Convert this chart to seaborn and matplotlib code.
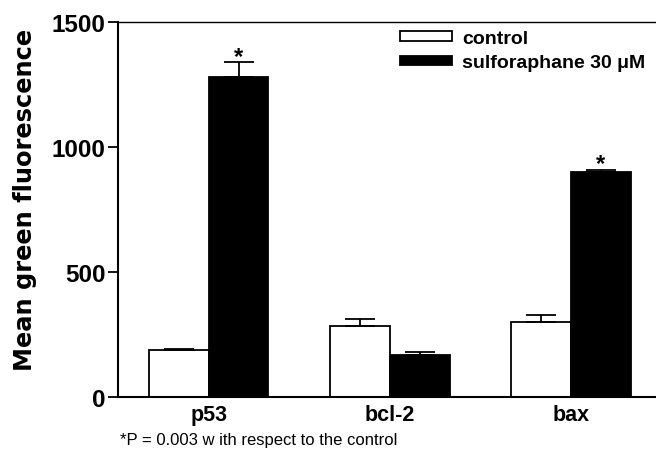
import matplotlib
matplotlib.use('Agg')
import matplotlib.pyplot as plt
import seaborn as sns
import pandas as pd

# values
proteins = ['p53', 'bcl-2', 'bax']
groups = ['control', 'sulforaphane 30 \u03bcM']
control_mean = [187, 284, 299]
control_err = [6, 27, 29]
sulf_mean = [1281, 168, 899]
sulf_err = [58, 12, 10]
significant = [True, False, True]
footnote = '*P = 0.003 w ith respect to the control'

df = pd.DataFrame({
    'protein': proteins * 2,
    'group': [groups[0]] * 3 + [groups[1]] * 3,
    'value': control_mean + sulf_mean,
})

sns.set_style('ticks')
plt.rcParams['font.family'] = ['Liberation Sans', 'DejaVu Sans']
# pure black text, like the scanned figure
plt.rcParams.update({'text.color': 'black', 'axes.labelcolor': 'black',
                     'xtick.color': 'black', 'ytick.color': 'black'})

fig = plt.figure(figsize=(6.56, 4.64), dpi=100)
ax = fig.add_axes([0.18, 0.142, 0.82, 0.808])

sns.barplot(data=df, x='protein', y='value', hue='group', order=proteins,
            hue_order=groups, palette=['white', 'black'], edgecolor='black',
            linewidth=1.3, width=0.66, errorbar=None, ax=ax)

errs = [control_err, sulf_err]
bar_conts = list(ax.containers)
for k, cont in enumerate(bar_conts):
    for i, bar in enumerate(cont.patches):
        xc = bar.get_x() + bar.get_width() / 2
        h = bar.get_height()
        ax.errorbar(xc, h, yerr=[[0], [errs[k][i]]], fmt='none', ecolor='black',
                    elinewidth=1.3, capsize=11, capthick=1.3)
        if k == 1 and significant[i]:
            ax.text(xc, h + errs[k][i] + 24, '*', ha='center', va='center',
                    fontsize=17, fontweight='bold')

ax.set_ylim(0, 1500)
ax.set_xlim(-0.5, 2.47)
ax.set_yticks([0, 500, 1000, 1500])
ax.set_xlabel('')
ax.set_ylabel('Mean green fluorescence', fontsize=17.4, fontweight='bold',
              family='DejaVu Sans')
ax.yaxis.set_label_coords(-0.151, 0.528)
ax.tick_params(axis='y', length=7, width=1.3, labelsize=17.5, pad=2)
ax.tick_params(axis='x', length=0, labelsize=15.5, pad=5)
for lab in ax.get_yticklabels() + ax.get_xticklabels():
    lab.set_fontweight('bold')

for s in ['left', 'bottom']:
    ax.spines[s].set_linewidth(1.5)
    ax.spines[s].set_color('black')
ax.spines['top'].set_linewidth(1.0)
ax.spines['top'].set_color('black')
ax.spines['right'].set_visible(False)

ax.legend(loc='upper left', bbox_to_anchor=(0.524, 0.98), frameon=False,
          handlelength=2.7, handleheight=0.4, handletextpad=0.5,
          labelspacing=0.4, borderpad=0, borderaxespad=0,
          prop={'size': 14, 'weight': 'bold'})

fig.text(0.183, 0.035, footnote, fontsize=12, ha='left', va='bottom')

fig.savefig('out.png', dpi=100)
